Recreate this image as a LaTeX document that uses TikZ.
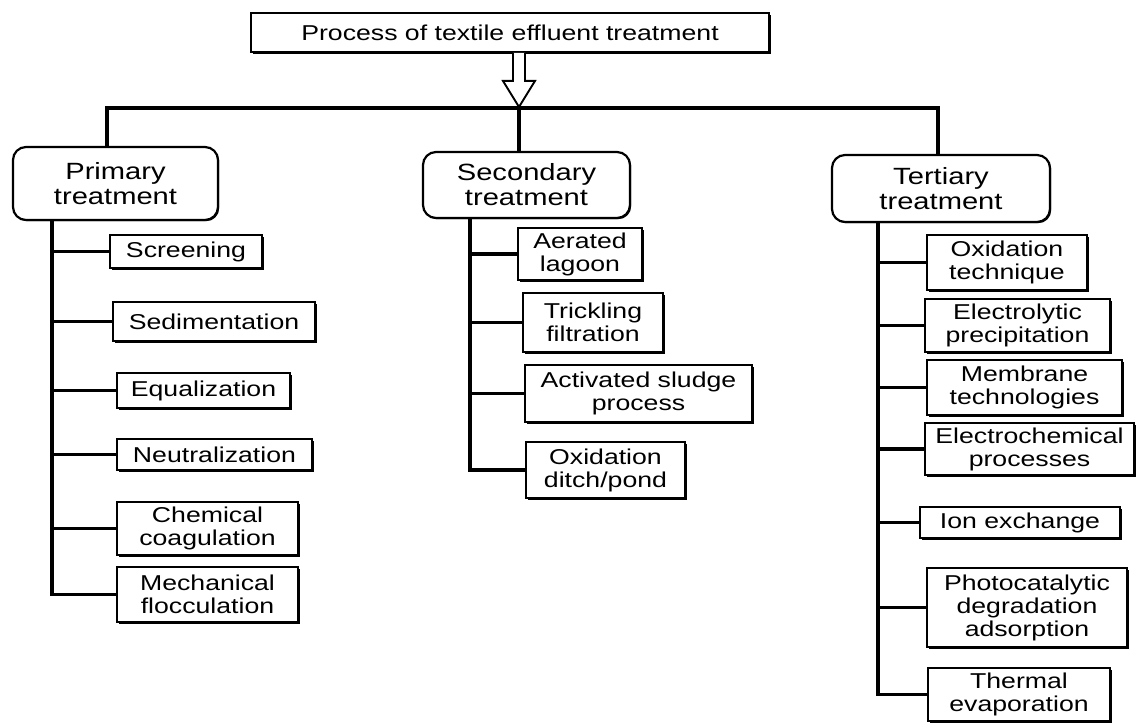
\documentclass[tikz,border=0pt]{standalone}
\usepackage{fontspec}
\setmainfont[FakeStretch=1.24]{Liberation Sans}
\usetikzlibrary{shadows}
\begin{document}
\begin{tikzpicture}[x=1pt,y=-1pt,
  leaf/.style={draw=black, line width=1.9pt, fill=white, align=center, inner sep=0pt,
    font=\fontsize{21.5}{23}\selectfont,
    drop shadow={shadow xshift=2.4pt, shadow yshift=-2.4pt, fill=black, opacity=1}},
  cat/.style={draw=black, line width=2.2pt, fill=white, align=center, inner sep=0pt,
    rounded corners=13pt, font=\fontsize{23.5}{25}\selectfont,
    drop shadow={shadow xshift=1.2pt, shadow yshift=-1.2pt, fill=black, opacity=1}},
  trunk/.style={line width=3.4pt, line cap=rect},
  branch/.style={line width=3.1pt}]
\useasboundingbox (0,0) rectangle (1138,725);

% title
\node[leaf, minimum width=518pt, minimum height=39pt] (title) at (510,32.5) {Process of textile effluent treatment};

% categories
\node[cat, minimum width=205pt, minimum height=73pt] (pri) at (115.5,183.5) {Primary\\treatment};
\node[cat, minimum width=207pt, minimum height=66pt] (sec) at (526.5,185) {Secondary\\treatment};
\node[cat, minimum width=218pt, minimum height=67pt] (ter) at (941,188.5) {Tertiary\\treatment};

% primary leaves
\node[leaf, minimum width=152pt, minimum height=33pt] (scr) at (186,251.5) {Screening};
\node[leaf, minimum width=202pt, minimum height=39pt] (sed) at (214,321.5) {Sedimentation};
\node[leaf, minimum width=173pt, minimum height=35pt] (equ) at (203.5,390.5) {Equalization};
\node[leaf, minimum width=195pt, minimum height=31pt] (neu) at (214.5,454.5) {Neutralization};
\node[leaf, minimum width=181pt, minimum height=53pt] (che) at (207.5,528.5) {Chemical\\coagulation};
\node[leaf, minimum width=181pt, minimum height=55pt] (mec) at (207.5,594.5) {Mechanical\\flocculation};

% secondary leaves
\node[leaf, minimum width=124pt, minimum height=52pt] (aer) at (580,254) {Aerated\\lagoon};
\node[leaf, minimum width=140pt, minimum height=59pt] (tri) at (593,322.5) {Trickling\\filtration};
\node[leaf, minimum width=227pt, minimum height=57pt] (act) at (638.5,393.5) {Activated sludge\\process};
\node[leaf, minimum width=159pt, minimum height=56pt] (oxd) at (605.5,470) {Oxidation\\ditch/pond};

% tertiary leaves
\node[leaf, minimum width=160pt, minimum height=55pt] (oxt) at (1007,262.5) {Oxidation\\technique};
\node[leaf, minimum width=185pt, minimum height=53pt] (ele) at (1017.5,325.5) {Electrolytic\\precipitation};
\node[leaf, minimum width=195pt, minimum height=55pt] (mem) at (1024.5,387.5) {Membrane\\technologies};
\node[leaf, minimum width=209pt, minimum height=52pt] (ech) at (1029.5,449) {Electrochemical\\processes};
\node[leaf, minimum width=200pt, minimum height=31pt] (ion) at (1020,522.5) {Ion exchange};
\node[leaf, minimum width=200pt, minimum height=79pt] (pho) at (1027,607.5) {Photocatalytic\\degradation\\adsorption};
\node[leaf, minimum width=182pt, minimum height=53pt] (the) at (1019,694.5) {Thermal\\evaporation};

% top distribution line
\coordinate (d1) at (107,108);
\coordinate (d3) at (938,108);
\coordinate (ax) at (519,108);
\draw[trunk, line join=miter] (d1 |- pri.north) -- (d1) -- (d3) -- (d3 |- ter.north);
\draw[trunk] (ax |- sec.north) -- (ax);

% hollow arrow
\draw[line width=1.9pt, fill=white, line join=miter] (ax |- title.south) ++(-6,0) -- ++(0,28) -- ++(-10,0) -- ++(16,26) -- ++(16,-26) -- ++(-10,0) -- ++(0,-28);

% primary trunk
\coordinate (pt) at (52,0);
\draw[trunk, line join=miter] (pt |- pri.south) -- (pt |- mec.west) -- (mec.west);
\foreach \n in {scr,sed,equ,neu,che} \draw[branch] (pt |- \n.west) -- (\n.west);

% secondary trunk
\coordinate (st) at (470,0);
\draw[trunk, line join=miter] (st |- sec.south) -- (st |- oxd.west) -- (oxd.west);
\foreach \n in {aer,tri,act} \draw[branch] (st |- \n.west) -- (\n.west);

% tertiary trunk
\coordinate (tt) at (878,0);
\draw[trunk, line join=miter] (tt |- ter.south) -- (tt |- the.west) -- (the.west);
\foreach \n in {oxt,ele,mem,ech,ion,pho} \draw[branch] (tt |- \n.west) -- (\n.west);
\end{tikzpicture}
\end{document}
